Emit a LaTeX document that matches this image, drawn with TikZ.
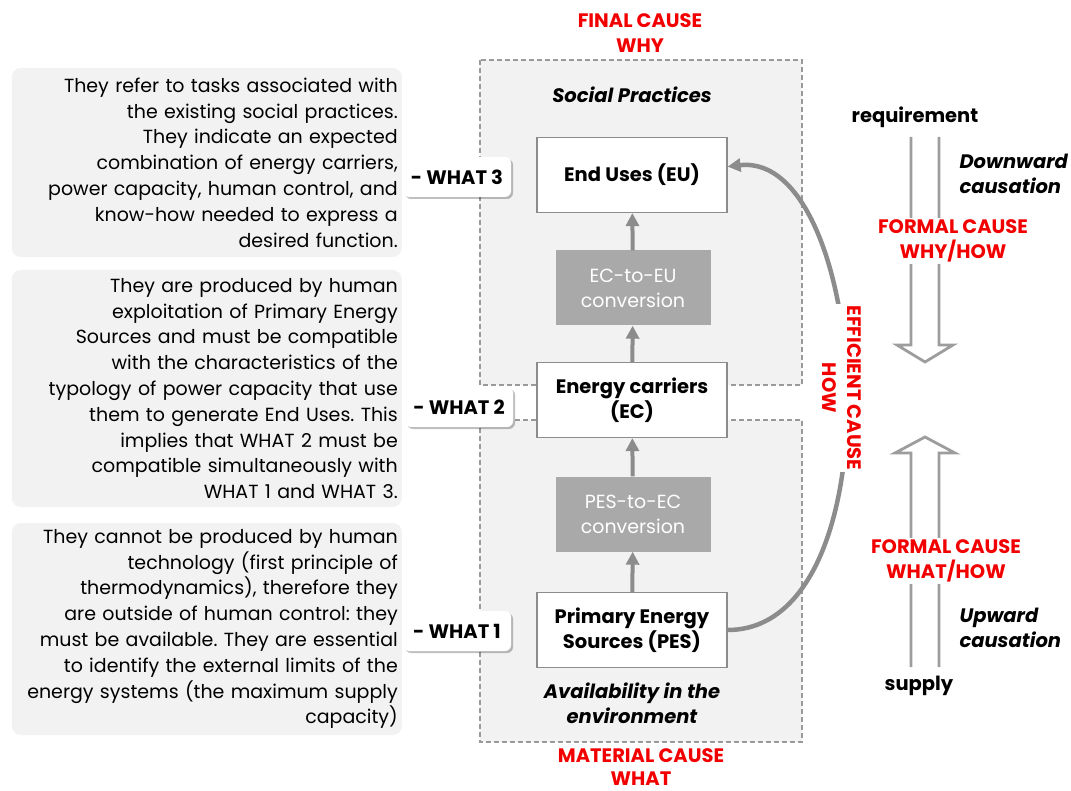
\documentclass[tikz,border=0pt]{standalone}
\usepackage{fontspec}
\setmainfont{Poppins}
\usetikzlibrary{arrows.meta,shadows}
\frenchspacing

\definecolor{regiongray}{HTML}{F2F2F2}
\definecolor{linegray}{HTML}{8C8C8C}
\definecolor{dashgray}{HTML}{9A9A9A}
\definecolor{convgray}{HTML}{A9A9A9}
\definecolor{causered}{HTML}{F20000}

\begin{document}
\begin{tikzpicture}[x=1pt,y=-1pt,
  region/.style={draw=dashgray, dash pattern=on 5pt off 3pt, line width=1.8pt, fill=regiongray},
  note/.style={fill=regiongray, rounded corners=9pt, align=right, text width=382pt, inner xsep=4pt,
    font=\fontsize{19}{25.8}\selectfont},
  what/.style={fill=white, rounded corners=6pt, minimum width=108pt, minimum height=40pt,
    font=\bfseries\fontsize{19.5}{22}\selectfont,
    drop shadow={shadow xshift=2pt, shadow yshift=-2pt, opacity=0.25, fill=black}},
  stage/.style={draw=linegray, line width=1.2pt, fill=white, minimum width=190pt, minimum height=75pt,
    align=center, font=\bfseries\fontsize{19.5}{25}\selectfont},
  conv/.style={fill=convgray, minimum width=155pt, minimum height=75pt, text=white,
    align=center, font=\fontsize{19}{25}\selectfont},
  cause/.style={text=causered, align=center, inner sep=2pt, font=\bfseries\fontsize{19.5}{25}\selectfont},
  flow/.style={draw=linegray, line width=4pt, -{Triangle[length=13pt,width=13pt]}},
  hollow/.style={draw=linegray!85, line width=2.8pt, line join=miter},
  plain/.style={font=\bfseries\fontsize{19.5}{25}\selectfont},
  slant/.style={align=left, font=\bfseries\itshape\fontsize{19.5}{25}\selectfont}]
\useasboundingbox (0,0) rectangle (1071,791);

% regions
\draw[region] (480,60) rectangle (802,385);
\draw[region] (480,420) rectangle (802,742);

% notes on the left
\node[note, anchor=east, minimum height=189pt] (note3) at (402,162.5)
  {They refer to tasks associated with\\the existing social practices.\\They indicate an expected\\
   combination of energy carriers,\\power capacity, human control, and\\know-how needed to express a\\
   desired function.};
\node[note, anchor=east, minimum height=237pt] (note2) at (402,388.5)
  {They are produced by human\\exploitation of Primary Energy\\Sources and must be compatible\\
   with the characteristics of the\\typology of power capacity that use\\them to generate End Uses. This\\
   implies that WHAT 2 must be\\compatible simultaneously with\\WHAT 1 and WHAT 3.};
\node[note, anchor=east, minimum height=212pt] (note1) at (402,629)
  {They cannot be produced by human\\technology (first principle of\\thermodynamics), therefore they\\
   are outside of human control: they\\must be available. They are essential\\to identify the external limits of the\\
   energy systems (the maximum supply\\capacity)};

\node[what] (what3) at (457,177) {- WHAT 3};
\node[what] (what2) at (459,407) {- WHAT 2};
\node[what] (what1) at (457,631) {- WHAT 1};

% chain
\node[slant, align=center] (social) at (632,95) {Social Practices};
\node[stage] (eu) at (632,175) {End Uses (EU)};
\node[conv] (ec2eu) at (633,288) {EC-to-EU\\conversion};
\node[stage] (ec) at (632,400) {Energy carriers\\(EC)};
\node[conv] (pes2ec) at (633,514) {PES-to-EC\\conversion};
\node[stage] (pes) at (632,630) {Primary Energy\\Sources (PES)};
\node[slant, align=center] (avail) at (632,703) {Availability in the\\environment};

\draw[flow] (pes) -- (pes2ec);
\draw[flow] (pes2ec) -- (ec);
\draw[flow] (ec) -- (ec2eu);
\draw[flow] (ec2eu) -- (eu);

% efficient cause
\draw[flow, line width=4.5pt] (pes.east) .. controls (900,630) and (870,150) .. (eu.5);
\node[cause, fill=white, rotate=-90] (eff) at (842,388) {EFFICIENT CAUSE\\HOW};

\node[cause] (final) at (640,33) {FINAL CAUSE\\WHY};
\node[cause, font=\bfseries\fontsize{19.5}{23}\selectfont] (material) at (641,767) {MATERIAL CAUSE\\WHAT};

% formal cause
\node[plain] (req) at (915,117) {requirement};
\node[plain] (supply) at (919,686) {supply};
\draw[hollow] (911,137) -- (911,345) -- (897,345) -- (925,362) -- (953,345) -- (939,345) -- (939,137);
\draw[hollow] (911,667) -- (911,453) -- (895,453) -- (925,437) -- (955,453) -- (939,453) -- (939,667);
\node[cause, fill=white] (formdown) at (953,241) {FORMAL CAUSE\\WHY/HOW};
\node[cause, fill=white] (formup) at (946,561) {FORMAL CAUSE\\WHAT/HOW};
\node[slant, anchor=west] (down) at (956,174) {Downward\\causation};
\node[slant, anchor=west] (up) at (956,628) {Upward\\causation};
\end{tikzpicture}
\end{document}
